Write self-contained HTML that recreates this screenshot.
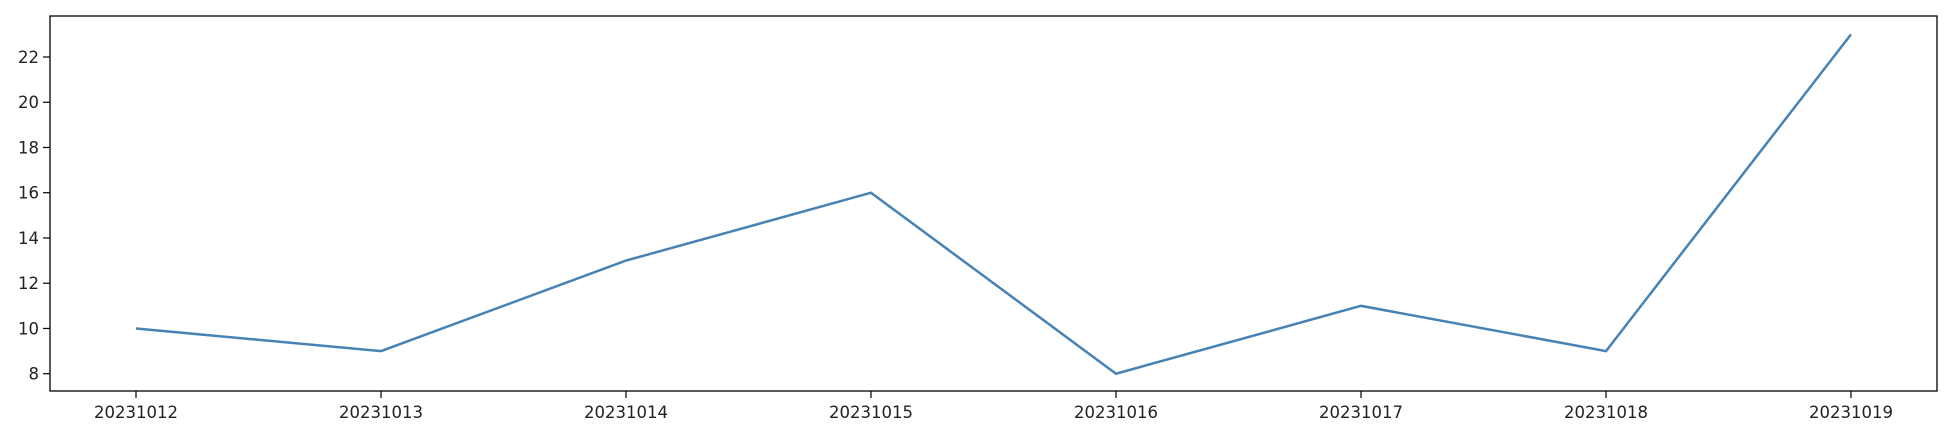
<!DOCTYPE html>
<html><head><meta charset="utf-8"><style>
html,body{margin:0;padding:0;background:#fff;}
svg{display:block;font-family:"DejaVu Sans","Liberation Sans",sans-serif;}
</style></head><body>
<svg id="chart" width="1948" height="432"></svg>
<script>
const categories=["20231012","20231013","20231014","20231015","20231016","20231017","20231018","20231019"];
const values=[10,9,13,16,8,11,9,23];
const yTicks=[8,10,12,14,16,18,20,22];
const L=50,R=1937,T=16,B=391;
const x0=136,x1=1851;
function xs(i){return x0+(x1-x0)*i/(categories.length-1);}
function ys(v){return 373.7-(v-8)*(373.7-57)/14;}
const NS="http://www.w3.org/2000/svg";
const svg=document.getElementById('chart');
function mk(t,a){const e=document.createElementNS(NS,t);for(const k in a)e.setAttribute(k,a[k]);svg.appendChild(e);return e;}
yTicks.forEach(v=>{
 const y=ys(v);
 const t=mk('line',{x1:L-7,x2:L,y1:y,y2:y,stroke:'#000','stroke-width':1.2});
 
 
 const l=mk('text',{x:L-11,y:y+6,'text-anchor':'end','font-size':16.5,fill:'#222'});
 l.textContent=v;
 
 
});
categories.forEach((c,i)=>{
 const x=xs(i);
 const t=mk('line',{x1:x,x2:x,y1:B,y2:B+7,stroke:'#000','stroke-width':1.2});
 
 
 const l=mk('text',{x:x,y:418,'text-anchor':'middle','font-size':16.5,fill:'#222'});
 l.textContent=c;
 
 
});
const line=mk('polyline',{points:values.map((v,i)=>xs(i)+','+ys(v)).join(' '),fill:'none',stroke:'#4682b4','stroke-width':2.5});


const f=mk('rect',{x:L,y:T,width:R-L,height:B-T,fill:'none',stroke:'#000','stroke-width':1.3});


</script>
</body></html>
